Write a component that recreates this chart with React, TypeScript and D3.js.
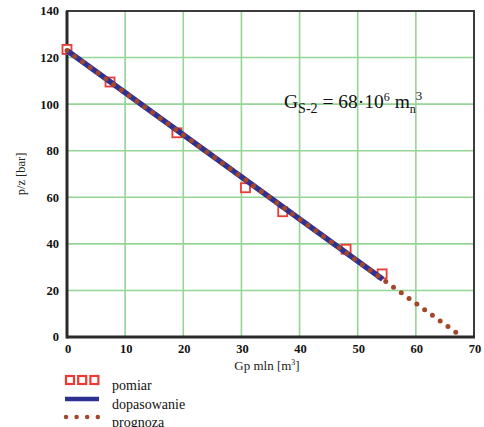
import React from "react";
import * as d3 from "d3";

const pomiarGp = [0, 7.4, 18.9, 30.7, 37.1, 48.0, 54.2];
const pomiarPz = [123.5, 109.5, 87.7, 64.1, 53.8, 37.7, 27.1];
const fitGp = [0, 54.3];
const fitPz = [123, 24.8];
const progGp = [0, 68];
const progPz = [123, 0];
const xTicks = [0, 10, 20, 30, 40, 50, 60, 70];
const yTicks = [0, 20, 40, 60, 80, 100, 120, 140];
const legendLabels = ["pomiar", "dopasowanie", "prognoza"];

const W = 484, H = 427;
const L = 67, R = 474, T = 11, B = 337;
const serif = "Liberation Serif";
const BLUE = "#2E3192";
const BROWN = "#A3472B";
const RED = "#EE3A33";
const GRID = "#95D595";

export default function App() {
  const x = d3.scaleLinear().domain([0, 70]).range([L, R]);
  const y = d3.scaleLinear().domain([0, 140]).range([B, T]);
  const line = d3.line<[number, number]>().x(d => x(d[0])).y(d => y(d[1]));
  const fit = line(fitGp.map((g, i) => [g, fitPz[i]]) as [number, number][]) || "";
  const prog = line(progGp.map((g, i) => [g, progPz[i]]) as [number, number][]) || "";
  return (
    <svg width={W} height={H} style={{ position: "absolute", left: 0, top: 0, background: "#fff", fontFamily: serif }}>
      {xTicks.map(t => (
        <line key={"gx" + t} x1={x(t)} x2={x(t)} y1={T} y2={B} stroke={GRID} strokeWidth={1.6} />
      ))}
      {yTicks.map(t => (
        <line key={"gy" + t} x1={L} x2={R} y1={y(t)} y2={y(t)} stroke={GRID} strokeWidth={1.6} />
      ))}
      <rect x={L} y={T} width={R - L} height={B - T} fill="none" stroke="#3c3c3c" strokeWidth={2} />
      <line x1={L} x2={L} y1={T} y2={B + 1.5} stroke="#2a2a2a" strokeWidth={3} />
      <line x1={L} x2={R + 1} y1={B} y2={B} stroke="#2a2a2a" strokeWidth={3} />
      {yTicks.map(t => (
        <text key={"ty" + t} x={59} y={y(t)} dy="0.35em" textAnchor="end" fontSize={12.5} fontWeight="bold" fill="#111">{t}</text>
      ))}
      {xTicks.map(t => (
        <text key={"tx" + t} x={x(t) + 1} y={353} textAnchor="middle" fontSize={12.5} fontWeight="bold" fill="#111">{t}</text>
      ))}
      <text transform={`translate(25,174) rotate(-90)`} textAnchor="middle" fontSize={12.5} fill="#222">p/z [bar]</text>
      <text x={267} y={370} textAnchor="middle" fontSize={13} fill="#222">
        Gp mln [m<tspan dy={-5} fontSize={8}>3</tspan><tspan dy={5}>]</tspan>
      </text>
      {pomiarGp.map((g, i) => (
        <rect key={"p" + i} x={x(g) - 4.5} y={y(pomiarPz[i]) - 4.5} width={9} height={9} fill="#fff" stroke={RED} strokeWidth={1.8} />
      ))}
      <path d={fit} stroke={BLUE} strokeWidth={5.5} fill="none" />
      <path d={prog} stroke={BROWN} strokeWidth={5} strokeLinecap="round" strokeDasharray="0 9.6" fill="none" />
      <text x={284} y={108} fontSize={19.5} fill="#111">
        G<tspan dy={5} fontSize={14}>S-2</tspan><tspan dy={-5}> = 68·10</tspan><tspan dy={-7} fontSize={12}>6</tspan><tspan dy={7}> m</tspan><tspan dy={5} fontSize={12}>n</tspan><tspan dy={-13} fontSize={13}>3</tspan>
      </text>
      {[0, 1, 2].map(k => (
        <rect key={"lg" + k} x={66 + k * 12.2} y={376} width={8} height={8} fill="#fff" stroke={RED} strokeWidth={2.2} />
      ))}
      <line x1={65} x2={99} y1={399} y2={399} stroke={BLUE} strokeWidth={4.5} />
      <line x1={66} x2={98} y1={417} y2={417} stroke={BROWN} strokeWidth={4.5} strokeLinecap="round" strokeDasharray="0 10.6" />
      {legendLabels.map((s, i) => (
        <text key={s} x={112} y={390 + i * 18.5} fontSize={14} fill="#111">{s}</text>
      ))}
    </svg>
  );
}
